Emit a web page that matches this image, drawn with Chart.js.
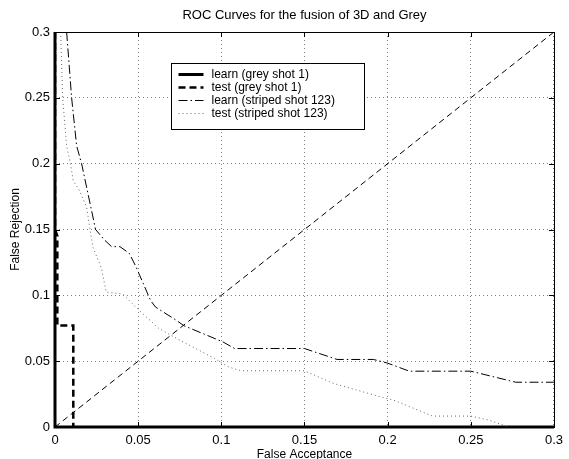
<!DOCTYPE html>
<html>
<head>
<meta charset="utf-8">
<title>ROC Curves</title>
<script src="https://cdn.jsdelivr.net/npm/chart.js@4.4.1/dist/chart.umd.min.js"></script>
<style>
	html, body { margin: 0; padding: 0; background: #fff; }
</style>
</head>
<body>
<canvas id="roc_chart" width="569" height="459"></canvas>
<script>
const x_tick_values = [0, 0.05, 0.1, 0.15, 0.2, 0.25, 0.3]
const x_tick_labels = ['0', '0.05', '0.1', '0.15', '0.2', '0.25', '0.3']
const y_tick_values = [0, 0.05, 0.1, 0.15, 0.2, 0.25, 0.3]
const y_tick_labels = ['0', '0.05', '0.1', '0.15', '0.2', '0.25', '0.3']

// learn (grey shot 1) - runs along the axes
const learn_grey_fa = [0, 0, 0.3]
const learn_grey_fr = [0.3, 0, 0]

// test (grey shot 1)
const test_grey_fa = [0, 0, 0.0014, 0.0014, 0.011, 0.011]
const test_grey_fr = [0.3, 0.15, 0.145, 0.077, 0.077, 0]

// learn (striped shot 123)
const learn_striped_fa = [0.007, 0.01, 0.013, 0.016, 0.0244, 0.0298, 0.034, 0.039, 0.0446,
	0.0486, 0.0575, 0.0605, 0.073, 0.0774, 0.101, 0.108, 0.15, 0.1696, 0.1915, 0.2, 0.213,
	0.25, 0.277, 0.3]
const learn_striped_fr = [0.3, 0.25, 0.2136, 0.2, 0.15, 0.142, 0.137, 0.137, 0.132,
	0.122, 0.096, 0.091, 0.081, 0.077, 0.0646, 0.0596, 0.0596, 0.0513, 0.0513, 0.0485, 0.0424,
	0.0424, 0.034, 0.034]

// test (striped shot 123)
const test_striped_fa = [0.0034, 0.0046, 0.007, 0.0093, 0.011, 0.0145, 0.019, 0.0212, 0.0228,
	0.0278, 0.0308, 0.0407, 0.0506, 0.0625, 0.0734, 0.096, 0.104, 0.112, 0.1498, 0.1677, 0.1954,
	0.2034, 0.2133, 0.227, 0.25, 0.2607, 0.2728]
const test_striped_fr = [0.3, 0.25, 0.2136, 0.2, 0.187, 0.18, 0.167, 0.149, 0.1366,
	0.121, 0.1025, 0.101, 0.0886, 0.0748, 0.067, 0.052, 0.0457, 0.0427, 0.0427, 0.033, 0.023,
	0.0205, 0.0154, 0.0083, 0.0083, 0.0053, 0]

// equal error line
const diag_fa = [0, 0.3]
const diag_fr = [0, 0.3]

const font_family = "'Liberation Sans', Arial, Helvetica, sans-serif"

const to_points = (xs, ys) => xs.map((x, i) => ({ x: x, y: ys[i] }))

// frame, inward ticks, title and legend box drawn matlab style
const matlab_plugin = {
	id: 'matlab_plugin',
	beforeDraw(chart) {
		const ctx = chart.ctx
		ctx.save()
		ctx.fillStyle = '#fff'
		ctx.fillRect(0, 0, chart.width, chart.height)
		ctx.restore()
	},
	afterDraw(chart) {
		const ctx = chart.ctx
		const area = chart.chartArea
		const x_scale = chart.scales.x
		const y_scale = chart.scales.y
		const tick_len = 5
		ctx.save()
		ctx.strokeStyle = '#000'
		ctx.lineWidth = 1
		ctx.setLineDash([])
		ctx.strokeRect(Math.round(area.left) + 0.5, Math.round(area.top) + 0.5,
			Math.round(area.right - area.left), Math.round(area.bottom - area.top))

		ctx.beginPath()
		x_tick_values.forEach((v) => {
			const px = Math.round(x_scale.getPixelForValue(v)) + 0.5
			ctx.moveTo(px, area.bottom)
			ctx.lineTo(px, area.bottom - tick_len)
			ctx.moveTo(px, area.top)
			ctx.lineTo(px, area.top + tick_len)
		})
		y_tick_values.forEach((v) => {
			const py = Math.round(y_scale.getPixelForValue(v)) + 0.5
			ctx.moveTo(area.left, py)
			ctx.lineTo(area.left + tick_len, py)
			ctx.moveTo(area.right, py)
			ctx.lineTo(area.right - tick_len, py)
		})
		ctx.stroke()

		// title
		ctx.fillStyle = '#000'
		ctx.font = '13px ' + font_family
		ctx.textAlign = 'center'
		ctx.textBaseline = 'middle'
		ctx.fillText('ROC Curves for the fusion of 3D and Grey', (area.left + area.right) / 2, 15)

		// legend
		const box_left = Math.round(area.left) + 116.5
		const box_top = Math.round(area.top) + 31.5
		const box_w = 193
		const box_h = 66
		ctx.fillStyle = '#fff'
		ctx.fillRect(box_left, box_top, box_w, box_h)
		ctx.strokeStyle = '#000'
		ctx.lineWidth = 1
		ctx.strokeRect(box_left, box_top, box_w, box_h)
		ctx.font = '12px ' + font_family
		ctx.textAlign = 'left'
		const items = chart.data.datasets
			.filter((d) => d.legend_rank !== undefined)
			.sort((a, b) => a.legend_rank - b.legend_rank)
		items.forEach((d, i) => {
			const row_y = Math.round(box_top + 10 + i * 13.3) + 0.5
			ctx.beginPath()
			ctx.strokeStyle = d.borderColor
			ctx.lineWidth = d.borderWidth
			ctx.setLineDash(d.borderDash || [])
			ctx.moveTo(box_left + 7, row_y)
			ctx.lineTo(box_left + 32, row_y)
			ctx.stroke()
			ctx.setLineDash([])
			ctx.fillStyle = '#000'
			ctx.fillText(d.label, box_left + 40, row_y)
		})
		ctx.restore()
	},
}

// eslint-disable-next-line
const roc_chart = new Chart(document.getElementById('roc_chart'), {
	type: 'scatter',
	data: {
		datasets: [
			{
				label: 'equal error',
				data: to_points(diag_fa, diag_fr),
				borderColor: '#000',
				borderWidth: 1,
				borderDash: [6, 4],
			},
			{
				label: 'test (striped shot 123)',
				data: to_points(test_striped_fa, test_striped_fr),
				borderColor: '#666',
				borderWidth: 1,
				borderDash: [1, 3],
				legend_rank: 3,
			},
			{
				label: 'learn (striped shot 123)',
				data: to_points(learn_striped_fa, learn_striped_fr),
				borderColor: '#000',
				borderWidth: 1,
				borderDash: [9, 3, 1.5, 3],
				legend_rank: 2,
			},
			{
				label: 'test (grey shot 1)',
				data: to_points(test_grey_fa, test_grey_fr),
				borderColor: '#000',
				borderWidth: 2.5,
				borderDash: [7, 4],
				legend_rank: 1,
			},
			{
				label: 'learn (grey shot 1)',
				data: to_points(learn_grey_fa, learn_grey_fr),
				borderColor: '#000',
				borderWidth: 3,
				borderDash: [],
				clip: false,
				legend_rank: 0,
			},
		].map((d) => Object.assign({ showLine: true, pointRadius: 0, fill: false, tension: 0 }, d)),
	},
	options: {
		responsive: false,
		animation: false,
		layout: { padding: { top: 32, right: 9, bottom: 0, left: 0 } },
		plugins: {
			legend: { display: false },
			title: { display: false },
			tooltip: { enabled: false },
		},
		scales: {
			x: {
				type: 'linear',
				min: 0,
				max: 0.3,
				afterBuildTicks: (scale) => {
					scale.ticks = x_tick_values.map((v) => ({ value: v }))
				},
				afterFit: (scale) => {
					scale.height = 32
				},
				grid: { color: 'rgba(0,0,0,0.5)', drawTicks: false, lineWidth: 1 },
				border: { display: false, dash: [1, 3] },
				ticks: {
					color: '#000',
					font: { size: 13, family: font_family },
					padding: 6,
					maxRotation: 0,
					autoSkip: false,
					callback: (v, i) => x_tick_labels[i],
				},
				title: {
					display: true,
					text: 'False Acceptance',
					color: '#000',
					font: { size: 12, family: font_family },
					padding: { top: 0, bottom: -3 },
				},
			},
			y: {
				type: 'linear',
				min: 0,
				max: 0.3,
				afterBuildTicks: (scale) => {
					scale.ticks = y_tick_values.map((v) => ({ value: v }))
				},
				afterFit: (scale) => {
					scale.width = 55
				},
				grid: { color: 'rgba(0,0,0,0.5)', drawTicks: false, lineWidth: 1 },
				border: { display: false, dash: [1, 3] },
				ticks: {
					color: '#000',
					font: { size: 13, family: font_family },
					padding: 5,
					autoSkip: false,
					callback: (v, i) => y_tick_labels[i],
				},
				title: {
					display: true,
					text: 'False Rejection',
					color: '#000',
					font: { size: 12, family: font_family },
					padding: { top: 8, bottom: 0 },
				},
			},
		},
	},
	plugins: [matlab_plugin],
})
</script>
</body>
</html>
